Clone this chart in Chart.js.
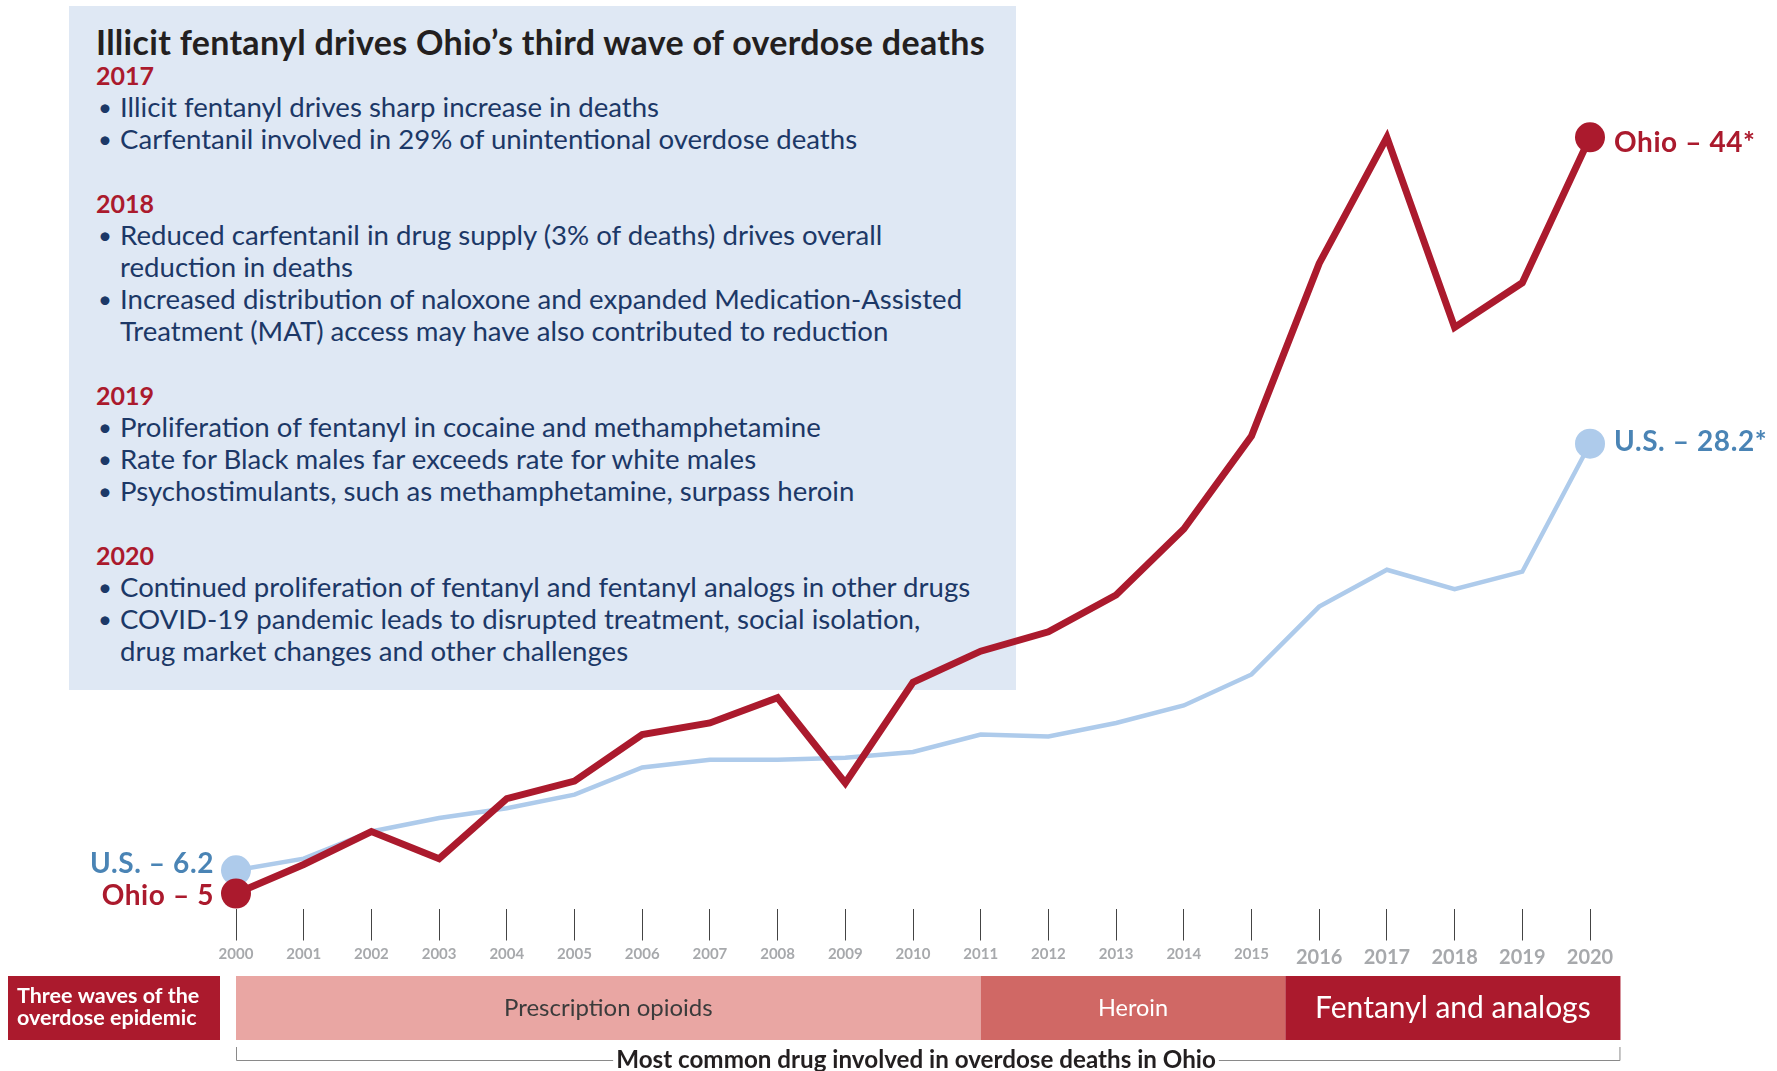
<!DOCTYPE html>
<html>
<head>
<meta charset="utf-8">
<script src="https://cdn.jsdelivr.net/npm/chart.js@4.4.1/dist/chart.umd.min.js"></script>
<style>
  body { margin: 0; background: #fff; }
  #wrap { position: relative; width: 1777px; height: 1071px; font-family: Lato, sans-serif; }
  #box {
    position: absolute; left: 69px; top: 6px; width: 947px; height: 684px;
    background: #dfe8f4; box-sizing: border-box; padding: 17.5px 0 0 27px;
    color: #1c3867;
  }
  #box .title { font-weight: 700; font-size: 34px; line-height: 35px; color: #231f20; letter-spacing: 0.3px; white-space: nowrap; }
  #box .yr { font-weight: 700; font-size: 25px; line-height: 32px; color: #ab1a2d; }
  #box .b { position: relative; padding-left: 24px; font-size: 27.6px; line-height: 32px; white-space: nowrap; }
  #box .b::before { content: "\2022"; position: absolute; left: 2px; top: 0; font-size: 24px; }
  #box .gap { height: 32px; }
  canvas { position: absolute; left: 0; top: 0; }
</style>
</head>
<body>
<div id="wrap">
  <div id="box">
    <div class="title">Illicit fentanyl drives Ohio’s third wave of overdose deaths</div>
    <div class="yr">2017</div>
    <div class="b">Illicit fentanyl drives sharp increase in deaths</div>
    <div class="b">Carfentanil involved in 29% of unintentional overdose deaths</div>
    <div class="gap"></div>
    <div class="yr">2018</div>
    <div class="b">Reduced carfentanil in drug supply (3% of deaths) drives overall<br>reduction in deaths</div>
    <div class="b">Increased distribution of naloxone and expanded Medication-Assisted<br>Treatment (MAT) access may have also contributed to reduction</div>
    <div class="gap"></div>
    <div class="yr">2019</div>
    <div class="b">Proliferation of fentanyl in cocaine and methamphetamine</div>
    <div class="b">Rate for Black males far exceeds rate for white males</div>
    <div class="b">Psychostimulants, such as methamphetamine, surpass heroin</div>
    <div class="gap"></div>
    <div class="yr">2020</div>
    <div class="b">Continued proliferation of fentanyl and fentanyl analogs in other drugs</div>
    <div class="b">COVID-19 pandemic leads to disrupted treatment, social isolation,<br>drug market changes and other challenges</div>
  </div>
  <canvas id="c" width="1777" height="1071"></canvas>
</div>
<script>
const years = [2000, 2001, 2002, 2003, 2004, 2005, 2006, 2007, 2008, 2009, 2010,
               2011, 2012, 2013, 2014, 2015, 2016, 2017, 2018, 2019, 2020];
const ohioRates = [5, 6.5, 8.2, 6.8, 9.9, 10.8, 13.2, 13.8, 15.1, 10.7, 15.9,
                   17.5, 18.5, 20.4, 23.8, 28.6, 37.5, 44, 34.2, 36.5, 44];
const usRates = [6.2, 6.8, 8.2, 8.9, 9.4, 10.1, 11.5, 11.9, 11.9, 12.0, 12.3,
                 13.2, 13.1, 13.8, 14.7, 16.3, 19.8, 21.7, 20.7, 21.6, 28.2];

const waveNames = ["Prescription opioids", "Heroin", "Fentanyl and analogs"];
const waveStarts = [2000, 2011, 2015.5];
const waveEnds = [2011, 2015.5, 2020.45];

const RED = "#ab1a2d";
const LIGHTBLUE = "#aecbeb";
const BLUE = "#4a84b5";
const FONT = "Lato, sans-serif";

function ptRadius(ctx) {
  return (ctx.dataIndex === 0 || ctx.dataIndex === years.length - 1) ? 15 : 0;
}

const labelsPlugin = {
  id: "endLabels",
  afterDatasetsDraw(chart) {
    const c = chart.ctx;
    const ohio = chart.getDatasetMeta(0).data;
    const us = chart.getDatasetMeta(1).data;
    const last = years.length - 1;
    c.save();
    c.font = "700 28px " + FONT;
    c.letterSpacing = "0.6px";
    c.textBaseline = "middle";
    c.textAlign = "left";
    c.fillStyle = RED;
    c.fillText("Ohio – " + ohioRates[last] + "*", ohio[last].x + 24, ohio[last].y + 6);
    c.fillStyle = BLUE;
    c.fillText("U.S. – " + usRates[last] + "*", us[last].x + 24, us[last].y - 2);
    c.textAlign = "right";
    c.fillStyle = BLUE;
    c.fillText("U.S. – " + usRates[0], us[0].x - 22, us[0].y - 6);
    c.fillStyle = RED;
    c.fillText("Ohio – " + ohioRates[0], ohio[0].x - 22, ohio[0].y + 2);
    c.restore();
  }
};

const wavesPlugin = {
  id: "waves",
  afterDraw(chart) {
    const c = chart.ctx;
    const xs = chart.scales.x;
    const top = 976, h = 64;
    const fills = ["#e9a6a3", "#d06865", RED];
    const textCols = ["#3b3b3b", "#ffffff", "#ffffff"];
    const sizes = [24, 23.5, 30];
    c.save();
    // left label box
    c.fillStyle = RED;
    c.fillRect(8, top, 212, h);
    c.fillStyle = "#fff";
    c.font = "700 21.5px " + FONT;
    c.textBaseline = "middle";
    c.textAlign = "left";
    c.fillText("Three waves of the", 17, top + 20);
    c.fillText("overdose epidemic", 17, top + 42);
    for (let i = 0; i < waveNames.length; i++) {
      const x0 = xs.getPixelForValue(waveStarts[i]);
      const x1 = xs.getPixelForValue(waveEnds[i]);
      c.fillStyle = fills[i];
      c.fillRect(x0, top, x1 - x0, h);
      c.fillStyle = textCols[i];
      c.font = "400 " + sizes[i] + "px " + FONT;
      c.textAlign = "center";
      c.fillText(waveNames[i], (x0 + x1) / 2, top + h / 2);
    }
    // bracket under the bands
    const bx0 = xs.getPixelForValue(waveStarts[0]);
    const bx1 = xs.getPixelForValue(waveEnds[waveEnds.length - 1]);
    const by = 1060;
    const label = "Most common drug involved in overdose deaths in Ohio";
    c.font = "700 24.2px " + FONT;
    const tw = c.measureText(label).width;
    const cx = 916;
    c.strokeStyle = "#8a8a8a";
    c.lineWidth = 1;
    c.beginPath();
    c.moveTo(bx0 + 0.5, by - 13);
    c.lineTo(bx0 + 0.5, by + 0.5);
    c.lineTo(cx - tw / 2 - 3, by + 0.5);
    c.moveTo(cx + tw / 2 + 3, by + 0.5);
    c.lineTo(bx1 - 0.5, by + 0.5);
    c.lineTo(bx1 - 0.5, by - 13);
    c.stroke();
    c.fillStyle = "#231f20";
    c.textAlign = "center";
    c.fillText(label, cx, by);
    c.restore();
  }
};

new Chart(document.getElementById("c"), {
  type: "line",
  data: {
    datasets: [
      {
        label: "Ohio",
        data: years.map((y, i) => ({ x: y, y: ohioRates[i] })),
        borderColor: RED,
        backgroundColor: RED,
        borderWidth: 7,
        borderJoinStyle: "miter",
        pointRadius: ptRadius,
        pointBorderWidth: 0,
        pointHoverRadius: ptRadius,
        clip: false,
        tension: 0
      },
      {
        label: "U.S.",
        data: years.map((y, i) => ({ x: y, y: usRates[i] })),
        borderColor: LIGHTBLUE,
        backgroundColor: LIGHTBLUE,
        borderWidth: 4.5,
        borderJoinStyle: "miter",
        pointRadius: ptRadius,
        pointBorderWidth: 0,
        pointHoverRadius: ptRadius,
        clip: false,
        tension: 0
      }
    ]
  },
  options: {
    responsive: false,
    animation: false,
    events: [],
    layout: { padding: { left: 236, right: 187, top: 21, bottom: 96.5 } },
    plugins: { legend: { display: false }, tooltip: { enabled: false } },
    scales: {
      x: {
        type: "linear",
        min: 2000,
        max: 2020,
        border: { display: false },
        grid: { drawOnChartArea: false, drawTicks: true, tickLength: 32, color: "#444", lineWidth: 1 },
        ticks: {
          stepSize: 1,
          padding: 5,
          color: "#a7a9ac",
          maxRotation: 0,
          autoSkip: false,
          callback: (v) => String(v),
          font: (ctx) => ({ family: FONT, weight: "700", size: ctx.tick && ctx.tick.value >= 2016 ? 20 : 15 })
        }
      },
      y: {
        display: false,
        min: 4.23,
        max: 50
      }
    }
  },
  plugins: [labelsPlugin, wavesPlugin]
});
</script>
</body>
</html>
